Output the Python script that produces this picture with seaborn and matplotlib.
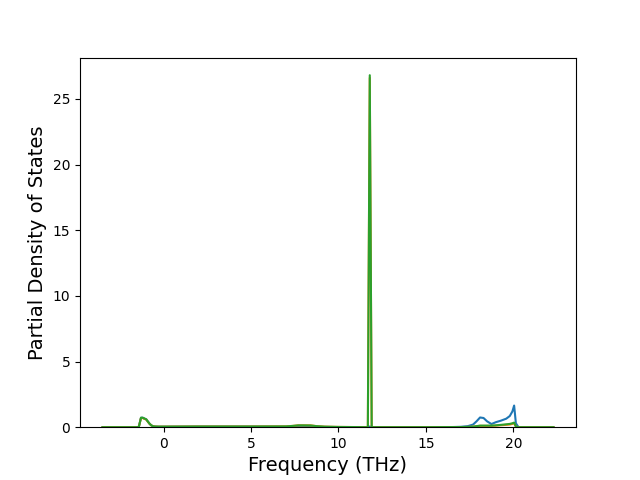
import matplotlib
matplotlib.use("Agg")
import matplotlib.pyplot as plt
import pandas as pd
import seaborn as sns

# Frequency grid (THz) and partial DOS for three projections
freqs = [-3.5, -1.5, -1.42, -1.3, -1.2, -1.1, -1.0, -0.9, -0.8, -0.7,
         -0.6, -0.5, -0.3, 0.0, 2.0, 5.0, 7.0, 7.4, 7.7, 8.0,
         8.4, 8.75, 9.2, 10.0, 11.0, 11.57, 11.68, 11.79, 11.90, 12.0,
         13.0, 15.0, 16.5, 17.0, 17.4, 17.7, 17.9, 18.1, 18.3, 18.5,
         18.75, 19.0, 19.3, 19.6, 19.8, 19.95, 20.05, 20.15, 20.3, 21.0,
         22.3]

pdos_1 = [0.0, 0.0, 0.05, 0.72, 0.72, 0.65, 0.6, 0.42, 0.25, 0.13,
          0.07, 0.05, 0.04, 0.04, 0.05, 0.05, 0.04, 0.04, 0.04, 0.04,
          0.04, 0.03, 0.02, 0.01, 0.01, 0.0, 0.0, 0.05, 0.0, 0.0,
          0.0, 0.0, 0.01, 0.03, 0.08, 0.2, 0.45, 0.74, 0.7, 0.45,
          0.24, 0.38, 0.5, 0.65, 0.85, 1.2, 1.65, 0.3, 0.0, 0.0,
          0.0]

pdos_2 = [0.0, 0.0, 0.05, 0.7, 0.7, 0.63, 0.58, 0.4, 0.24, 0.13,
          0.07, 0.05, 0.04, 0.04, 0.05, 0.05, 0.06, 0.1, 0.14, 0.14,
          0.14, 0.08, 0.04, 0.02, 0.01, 0.0, 0.0, 26.6, 0.0, 0.0,
          0.0, 0.0, 0.01, 0.01, 0.02, 0.04, 0.08, 0.1, 0.1, 0.1,
          0.1, 0.12, 0.15, 0.18, 0.2, 0.25, 0.3, 0.05, 0.0, 0.0,
          0.0]

pdos_3 = [0.0, 0.0, 0.05, 0.72, 0.72, 0.66, 0.6, 0.42, 0.25, 0.13,
          0.07, 0.05, 0.04, 0.04, 0.05, 0.05, 0.06, 0.1, 0.14, 0.14,
          0.13, 0.08, 0.04, 0.02, 0.01, 0.0, 0.0, 26.8, 0.0, 0.0,
          0.0, 0.0, 0.01, 0.01, 0.02, 0.04, 0.08, 0.12, 0.12, 0.12,
          0.12, 0.14, 0.18, 0.22, 0.25, 0.3, 0.35, 0.05, 0.0, 0.0,
          0.0]

series = {"1": pdos_1, "2": pdos_2, "3": pdos_3}

df = pd.concat(
    [pd.DataFrame({"freq": freqs, "pdos": vals, "proj": name})
     for name, vals in series.items()],
    ignore_index=True,
)

fig, ax = plt.subplots(figsize=(6.4, 4.8), dpi=100)
sns.lineplot(data=df, x="freq", y="pdos", hue="proj",
             palette=["tab:blue", "tab:orange", "tab:green"],
             legend=False, linewidth=1.5, ax=ax)

ax.set_ylim(bottom=0)
ax.set_xlabel("Frequency (THz)", fontsize=14)
ax.set_ylabel("Partial Density of States", fontsize=14)

fig.savefig("out.png", dpi=100)
